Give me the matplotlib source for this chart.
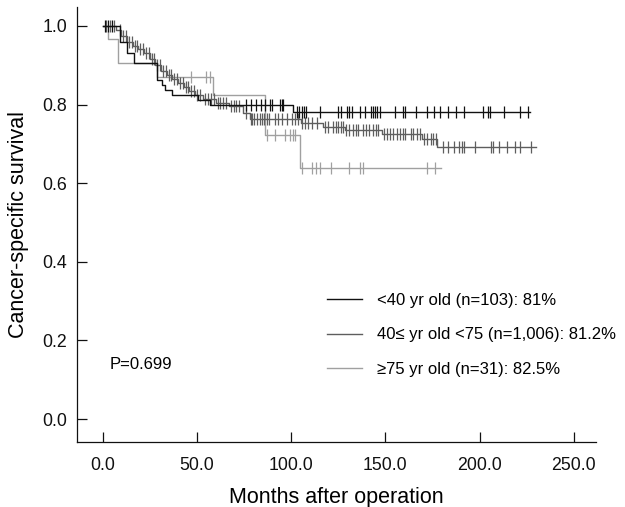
import numpy as np
import matplotlib
matplotlib.use("Agg")
import matplotlib.pyplot as plt
from matplotlib.lines import Line2D

plt.rcParams['font.family'] = ['Liberation Sans', 'DejaVu Sans']

# <40 yr old
young_t = [0, 9.2, 13, 16.5, 28.7, 31.3, 33, 36.6, 50.7, 57, 101.2]
young_s = [1.0, 0.958, 0.93, 0.905, 0.863, 0.85, 0.837, 0.824, 0.812, 0.80, 0.781]
young_end = 227
young_cens = [1, 3, 5, 75.9, 78.7, 81.2, 84, 86.2, 88.8, 90, 94.1, 95, 95.9, 103, 104.2,
              105.6, 106.8, 108, 115.4, 125, 126.3, 129.5, 130.9, 132.2, 136.6, 139.2,
              142.4, 143.3, 144.5, 145.8, 147.2, 155.1, 159.2, 160.4, 166.3, 171.9, 176,
              179, 183.4, 187.5, 191.8, 201.7, 204.4, 205.6, 213, 221.5, 225.9]

# 40-75 yr old
mid_t = [0, 7, 10, 13, 16, 19, 22, 25, 28, 31, 34, 37, 40, 43, 46, 49, 53, 60, 67,
         74.5, 78, 105, 117, 128.6, 148.3, 169.5, 177.4]
mid_s = [1.0, 0.99, 0.975, 0.96, 0.95, 0.94, 0.93, 0.915, 0.90, 0.885, 0.875, 0.865,
         0.855, 0.845, 0.835, 0.825, 0.815, 0.805, 0.795, 0.778, 0.763, 0.752, 0.743,
         0.734, 0.724, 0.712, 0.693]
mid_end = 230
mid_cens = [2, 4, 6, 9, 11, 12.5, 14, 15.5, 17, 18.5, 20, 21.5, 23, 24.5, 26, 27.5, 29,
            30.5, 32, 33.5, 35, 36.5, 38, 39.5, 41, 42.5, 44, 45.5, 47, 48.5, 50, 51.5,
            54.5, 56, 57.5, 59, 61, 62.5, 64, 65.5, 68, 69.5, 71, 72.5, 76, 78.7, 79.4,
            80.5, 81.7, 83.5, 84.4, 85.8, 87, 88.3, 91.5, 93.2, 95.3, 97.7, 100.3, 102,
            103.8, 105.6, 107.4, 109.1, 110.9, 113.6, 118, 119.7, 122.4, 123.8, 125,
            126.3, 127.4, 129.1, 130.9, 133, 134.4, 135.7, 138, 139.8, 141.5, 143.3,
            145.1, 146.3, 149.3, 151, 152.5, 154.2, 156, 157.8, 159.6, 160.5, 163.5,
            164.9, 166.7, 168.4, 170.5, 172.3, 174.1, 175.5, 176.9, 180.5, 183.4, 186.5,
            189.3, 190.5, 191.8, 197.6, 205.9, 207, 210.5, 214.4, 218.8, 221.5, 227.2]

# >=75 yr old
old_t = [0, 2.8, 8.3, 28.7, 58.7, 86, 104.8]
old_s = [1.0, 0.967, 0.905, 0.871, 0.824, 0.723, 0.638]
old_end = 179.4
old_cens = [47, 55, 57, 87, 91.5, 96.8, 99.4, 100.8, 102, 105.6, 110.9, 113.2, 115.3,
            121, 130.9, 136.6, 138, 172, 176.4]

labels = ["<40 yr old (n=103): 81%",
          "40\u2264 yr old <75 (n=1,006): 81.2%",
          "\u226575 yr old (n=31): 82.5%"]
colors = ["#111111", "#5e5e5e", "#a0a0a0"]


def km(ax, t, s, end, cens, color):
    t = np.append(np.array(t, float), end)
    s = np.append(np.array(s, float), s[-1])
    ax.step(t, s, where='post', color=color, lw=1.0)
    idx = np.searchsorted(t, cens, side='right') - 1
    ax.plot(cens, s[idx], ls='none', marker='|', ms=8, mew=0.9, color=color)


fig = plt.figure(figsize=(6.25, 5.07), dpi=100)
ax = fig.add_axes([0.1232, 0.128, 0.8304, 0.8582])

km(ax, old_t, old_s, old_end, old_cens, colors[2])
km(ax, mid_t, mid_s, mid_end, mid_cens, colors[1])
km(ax, young_t, young_s, young_end, young_cens, colors[0])

ax.set_xlim(-13.6, 261.8)
ax.set_ylim(-0.0585, 1.048)
ax.set_xticks([0, 50, 100, 150, 200, 250])
ax.set_xticklabels(["0.0", "50.0", "100.0", "150.0", "200.0", "250.0"])
ax.set_yticks([0, 0.2, 0.4, 0.6, 0.8, 1.0])
ax.set_yticklabels(["0.0", "0.2", "0.4", "0.6", "0.8", "1.0"])
ax.tick_params(direction='in', length=7, width=0.9, labelsize=12.8, colors='#111111')
ax.tick_params(axis='x', pad=11)
ax.tick_params(axis='y', pad=7)
for sp in ['top', 'right']:
    ax.spines[sp].set_visible(False)
for sp in ['left', 'bottom']:
    ax.spines[sp].set_linewidth(0.9)
    ax.spines[sp].set_color('#111111')

ax.set_xlabel("Months after operation", fontsize=15.5, labelpad=9)
ax.set_ylabel("Cancer-specific survival", fontsize=15.5, labelpad=10)

ax.text(3.9, 0.139, "P=0.699", fontsize=12, va='center', ha='left')

handles = [Line2D([], [], color=c, lw=1.0) for c in colors]
ax.legend(handles, labels, loc='upper left', bbox_to_anchor=(0.481, 0.343),
          frameon=False, fontsize=12, handlelength=2.15, handletextpad=0.86,
          labelspacing=1.17, borderpad=0, borderaxespad=0)

fig.savefig("out.png", dpi=100)
